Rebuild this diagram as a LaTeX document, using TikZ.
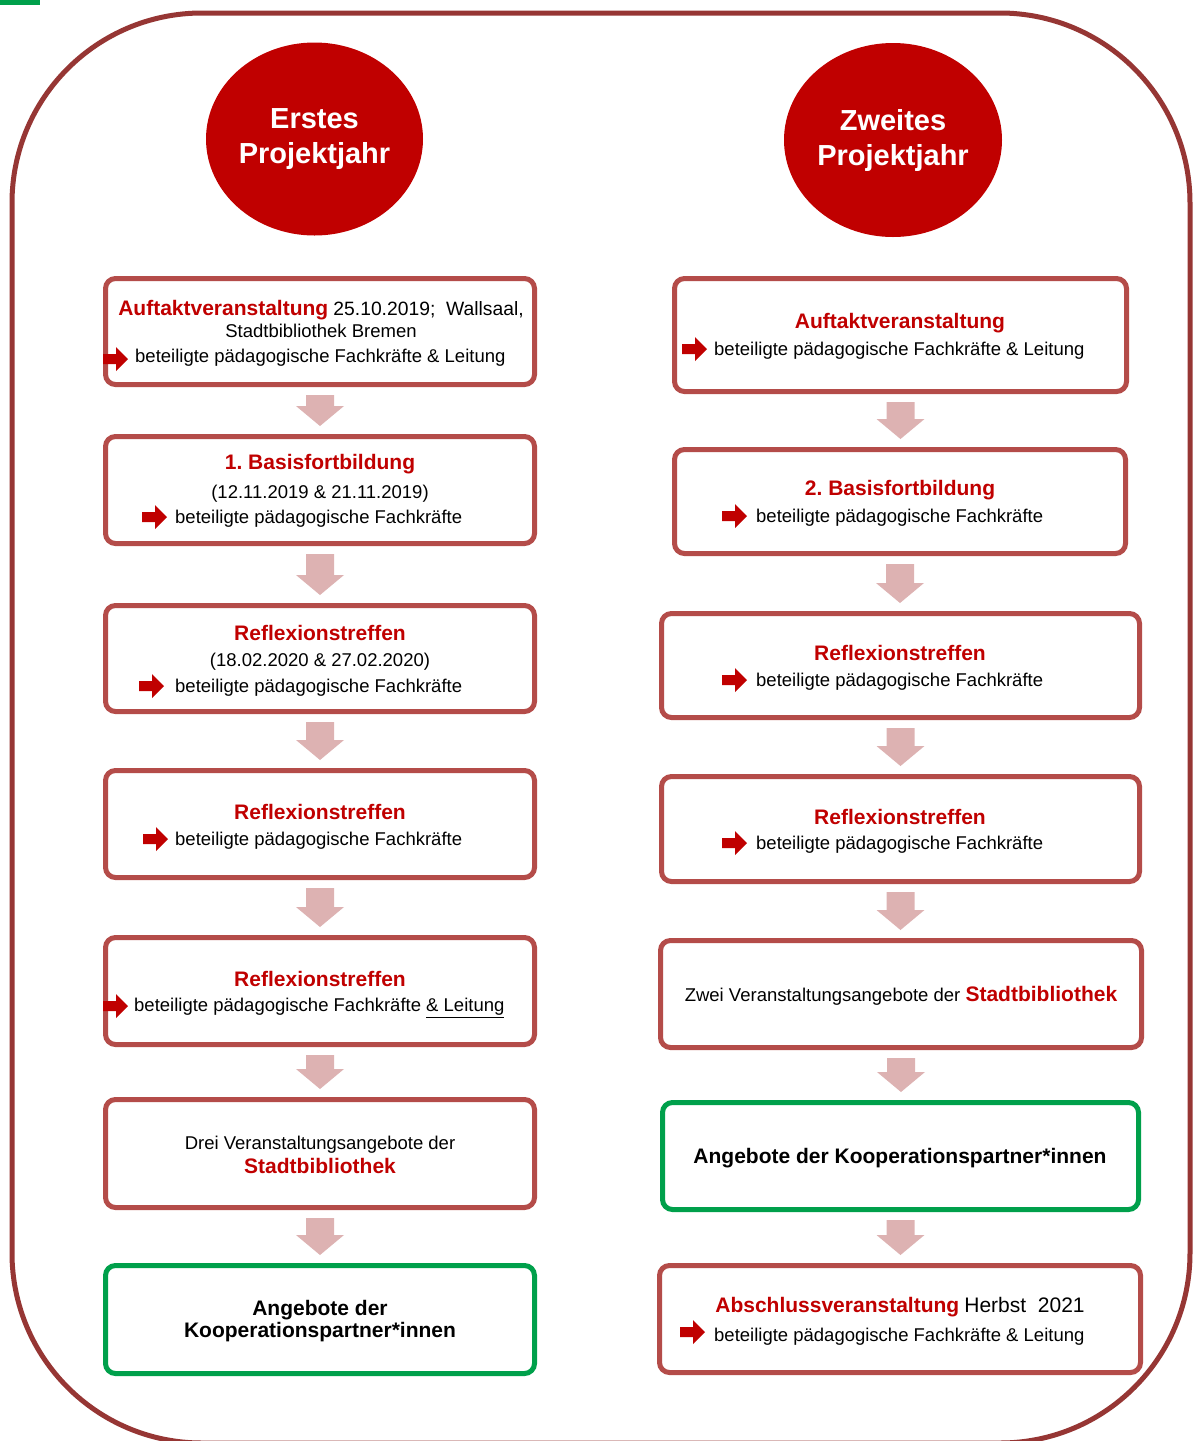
\documentclass[tikz,border=0pt]{standalone}
\usepackage{fontspec}
\setmainfont{Liberation Sans}
\usepackage{tikz}
\usetikzlibrary{calc}
\usetikzlibrary{shapes.geometric}
\definecolor{deepred}{RGB}{192,0,0}
\definecolor{boxred}{RGB}{180,76,73}
\definecolor{framered}{RGB}{150,54,52}
\definecolor{flowpink}{RGB}{221,178,178}
\definecolor{okgreen}{RGB}{0,160,75}
\frenchspacing
\newcommand{\bodyfont}{\fontsize{18.5}{22}\selectfont}
\newcommand{\titlefont}{\fontsize{21}{24}\selectfont\bfseries}
\newcommand{\yearfont}{\fontsize{29}{35}\selectfont\bfseries}
\newcommand{\phase}[6]{\node[#6, minimum width=#4, minimum height=#5] (#1) at (#2,#3) {};}
\newcommand{\pointer}[2]{\fill[deepred] (#1,#2-5) -- (#1+13,#2-5) -- (#1+13,#2-12) -- (#1+25,#2) -- (#1+13,#2+12) -- (#1+13,#2+5) -- (#1,#2+5) -- cycle;}
\newcommand{\flowarrow}[2]{\fill[flowpink] let \p1=($(#1.south)+(0,8)$), \p2=($(#2.north)+(0,-8)$) in (\x1-14pt,\y1) -- (\x1+14pt,\y1) -- (\x1+14pt,\y2+20pt) -- (\x1+24pt,\y2+20pt) -- (\x1,\y2) -- (\x1-24pt,\y2+20pt) -- (\x1-14pt,\y2+20pt) -- cycle;}
\tikzset{
  phasebox/.style={draw=boxred, line width=5pt, rounded corners=10pt, fill=white},
  partnerbox/.style={phasebox, draw=okgreen},
  title/.style={font=\titlefont, text=deepred, inner sep=0pt, yshift=-2pt},
  body/.style={font=\bodyfont, inner sep=0pt, yshift=-2pt},
  year/.style={ellipse, fill=deepred, text=white, font=\yearfont, align=center, inner sep=0pt}
}
\begin{document}
\begin{tikzpicture}[x=1pt,y=-1pt]
        \useasboundingbox (0,0) rectangle (1194,1441);
        \fill[okgreen] (0,0) rectangle (40,5);
        % frame
        \draw[framered, line width=5pt, rounded corners=190pt] (12,13) rectangle (1190,1443);
        % years
        \node[year, minimum width=217, minimum height=193] (jahr1) at (314.5,139) {Erstes\\Projektjahr};
        \node[year, minimum width=218, minimum height=194] (jahr2) at (893,140) {Zweites\\Projektjahr};
        % boxes first year
        \phase{l1}{320}{331.5}{429}{106}{phasebox}
        \phase{l2}{320}{490}{429}{107}{phasebox}
        \phase{l3}{320}{658.5}{429}{106}{phasebox}
        \phase{l4}{320}{824}{429}{107}{phasebox}
        \phase{l5}{320}{991}{429}{107}{phasebox}
        \phase{l6}{320}{1153.5}{429}{108}{phasebox}
        \phase{l7}{320}{1319.5}{429}{108}{partnerbox}
        % boxes second year
        \phase{r1}{900.5}{335}{452}{113}{phasebox}
        \phase{r2}{900}{501.5}{451}{104}{phasebox}
        \phase{r3}{900.5}{665.5}{478}{104}{phasebox}
        \phase{r4}{900.5}{829}{478}{105}{phasebox}
        \phase{r5}{901}{994}{481}{107}{phasebox}
        \phase{r6}{900.5}{1156}{476}{107}{partnerbox}
        \phase{r7}{900}{1319}{481}{107}{phasebox}
        % arrows
        \flowarrow{l1}{l2}
        \flowarrow{l2}{l3}
        \flowarrow{l3}{l4}
        \flowarrow{l4}{l5}
        \flowarrow{l5}{l6}
        \flowarrow{l6}{l7}
        \flowarrow{r1}{r2}
        \flowarrow{r2}{r3}
        \flowarrow{r3}{r4}
        \flowarrow{r4}{r5}
        \flowarrow{r5}{r6}
        \flowarrow{r6}{r7}
        % text first year
        \node[body] (l1a) at (321,308) {{\titlefont\color{deepred}Auftaktveranstaltung} {\fontsize{19.3}{22}\selectfont 25.10.2019;\ \ Wallsaal,}};
        \node[body] (l1b) at (321,329) {Stadtbibliothek Bremen};
        \pointer{103}{359}
        \node[body, anchor=west] (l1c) at (135,356) {beteiligte pädagogische Fachkräfte \& Leitung};
        \node[title] (l2a) at (320,462) {1. Basisfortbildung};
        \node[body] (l2b) at (320,492) {(12.11.2019 \& 21.11.2019)};
        \pointer{142}{517}
        \node[body, anchor=west] (l2c) at (175,517) {beteiligte pädagogische Fachkräfte};
        \node[title] (l3a) at (320,631) {Reflexionstreffen};
        \node[body] (l3b) at (320,660) {(18.02.2020 \& 27.02.2020)};
        \pointer{139}{686}
        \node[body, anchor=west] (l3c) at (175,686) {beteiligte pädagogische Fachkräfte};
        \node[title] (l4a) at (320,810) {Reflexionstreffen};
        \pointer{143}{839}
        \node[body, anchor=west] (l4c) at (175,839) {beteiligte pädagogische Fachkräfte};
        \node[title] (l5a) at (320,977) {Reflexionstreffen};
        \pointer{103}{1006}
        \node[body, anchor=west] (l5c) at (134,1006) {beteiligte pädagogische Fachkräfte \underline{\& Leitung}};
        \node[body] (l6a) at (320,1143) {Drei Veranstaltungsangebote der};
        \node[title] (l6b) at (320,1164) {Stadtbibliothek};
        \node[title, text=black] (l7a) at (320,1308) {Angebote der};
        \node[title, text=black] (l7b) at (320,1330) {Kooperationspartner*innen};
        % text second year
        \node[title] (r1a) at (900,321) {Auftaktveranstaltung};
        \pointer{682}{349}
        \node[body, anchor=west] (r1c) at (714,349) {beteiligte pädagogische Fachkräfte \& Leitung};
        \node[title] (r2a) at (900,488) {2. Basisfortbildung};
        \pointer{722}{516}
        \node[body, anchor=west] (r2c) at (756,516) {beteiligte pädagogische Fachkräfte};
        \node[title] (r3a) at (900,651) {Reflexionstreffen};
        \pointer{722}{680}
        \node[body, anchor=west] (r3c) at (756,680) {beteiligte pädagogische Fachkräfte};
        \node[title] (r4a) at (900,815) {Reflexionstreffen};
        \pointer{722}{843}
        \node[body, anchor=west] (r4c) at (756,843) {beteiligte pädagogische Fachkräfte};
        \node[body] (r5a) at (901,994) {Zwei Veranstaltungsangebote der {\titlefont\color{deepred}Stadtbibliothek}};
        \node[title, text=black] (r6a) at (900,1156) {Angebote der Kooperationspartner*innen};
        \node[body] (r7a) at (900,1305) {{\titlefont\color{deepred}Abschlussveranstaltung} {\fontsize{21}{24}\selectfont Herbst\ \ 2021}};
        \pointer{680}{1332}
        \node[body, anchor=west] (r7c) at (714,1335) {beteiligte pädagogische Fachkräfte \& Leitung};
\end{tikzpicture}
\end{document}
